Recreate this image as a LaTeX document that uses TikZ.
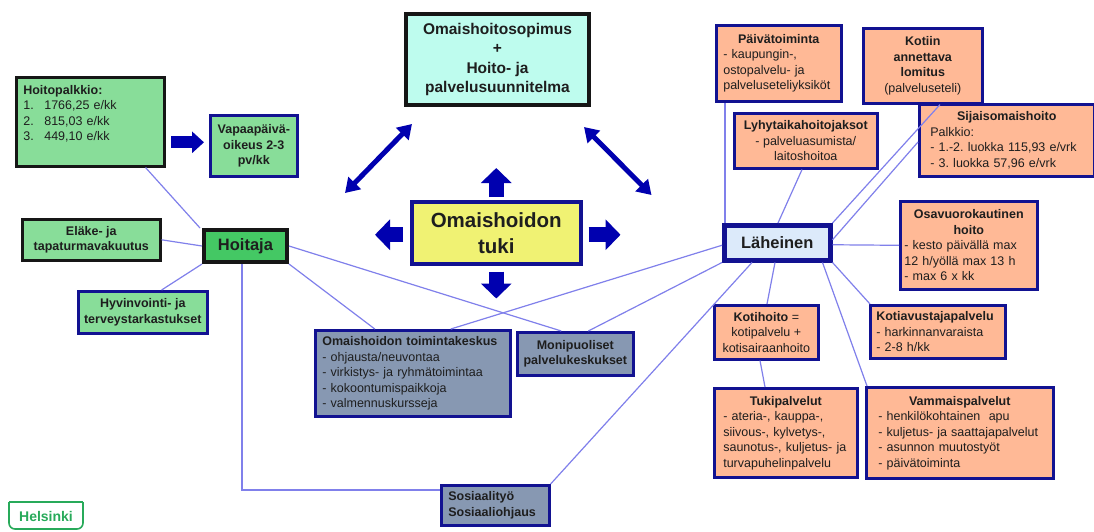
\documentclass[tikz,border=0pt]{standalone}
\usepackage{fontspec}
\setmainfont{Liberation Sans}
\usetikzlibrary{arrows.meta,calc}
\setlength\parindent{0pt}
\frenchspacing
\definecolor{grn}{RGB}{136,221,153}
\definecolor{hgr}{RGB}{68,200,100}
\definecolor{nvy}{RGB}{18,18,145}
\definecolor{blk}{RGB}{22,22,22}
\definecolor{cyn}{RGB}{190,252,238}
\definecolor{ylw}{RGB}{240,242,115}
\definecolor{sal}{RGB}{255,185,150}
\definecolor{sla}{RGB}{135,152,178}
\definecolor{lbl}{RGB}{220,234,250}
\definecolor{lin}{RGB}{128,128,235}
\definecolor{arw}{RGB}{0,0,175}
\definecolor{hgrn}{RGB}{40,170,90}
\definecolor{txt}{RGB}{30,30,30}
\newcommand\fs{\fontsize{12.5}{15.5}\selectfont}
\begin{document}
\begin{tikzpicture}[x=1pt,y=-1pt,
  bx/.style={draw=nvy, line width=2.6pt, inner sep=0pt, anchor=north west, font=\fs, text=txt, align=left},
  green/.style={bx, fill=grn},
  salmon/.style={bx, fill=sal},
  slate/.style={bx, fill=sla},
  sz/.style 2 args={minimum width=#1, minimum height=#2},
  conn/.style={draw=lin, line width=1.2pt},
  barrow/.style={draw=arw, line width=15pt, -{Triangle[length=15pt,width=30pt]}},
  dbl/.style={draw=arw, line width=5pt, {Triangle[length=14pt,width=17pt]}-{Triangle[length=14pt,width=17pt]}}
]
\useasboundingbox (0,0) rectangle (1094,531);
\fill[white] (0,0) rectangle (1094,531);

% left (carer)
\node[green, draw=blk, sz={148pt}{89pt}, text width=134pt] (hp) at (15,76) {\textbf{Hoitopalkkio:}\\ \makebox[21pt][l]{1.}1766,25 e/kk\\ \makebox[21pt][l]{2.}815,03 e/kk\\ \makebox[21pt][l]{3.}449,10 e/kk\par\vspace{16pt}};
\node[green, sz={87pt}{61pt}, align=center, font=\fs\bfseries] (vp) at (209,114) {Vapaapäivä-\\oikeus 2-3\\pv/kk};
\node[green, draw=blk, sz={138pt}{41pt}, align=center, font=\fs\bfseries] (el) at (21,218) {Eläke- ja\\tapaturmavakuutus};
\node[bx, draw=blk, fill=hgr, line width=4pt, sz={83pt}{32pt}, font=\fontsize{16.5}{18}\selectfont\bfseries] (ho) at (202,228) {Hoitaja};
\node[green, sz={129pt}{42pt}, align=center, font=\fs\bfseries] (hy) at (77,290) {Hyvinvointi- ja\\terveystarkastukset};

% centre
\node[bx, draw=blk, fill=cyn, line width=4pt, sz={183pt}{91pt}, align=center, font=\fontsize{15.5}{19.5}\selectfont\bfseries] (os) at (404,12) {Omaishoitosopimus\\+\\Hoito- ja\\palvelusuunnitelma};
\node[bx, fill=ylw, line width=3.5pt, sz={169pt}{62pt}, align=center, font=\fontsize{20.5}{26}\selectfont\bfseries] (ot) at (410,200) {Omaishoidon\\tuki};
\node[slate, sz={195pt}{86pt}, text width=181pt] (tk) at (314,329) {\textbf{Omaishoidon toimintakeskus}\\- ohjausta/neuvontaa\\- virkistys- ja ryhmätoimintaa\\- kokoontumispaikkoja\\- valmennuskursseja};
\node[slate, sz={116pt}{43pt}, align=center, font=\fs\bfseries] (mp) at (516,331) {Monipuoliset\\palvelukeskukset};
\node[slate, sz={108pt}{40pt}, text width=94pt, font=\fs\bfseries] (so) at (440,484) {Sosiaalityö\\Sosiaaliohjaus};

% right (relative)
\node[salmon, sz={125pt}{76pt}, text width=111pt] (pt) at (715,24) {{\centering\textbf{Päivätoiminta}\par}- kaupungin-,\\ostopalvelu- ja\\palveluseteliyksiköt};
\node[salmon, sz={119pt}{75pt}, align=center] (ko) at (862,27) {\textbf{Kotiin}\\\textbf{annettava}\\\textbf{lomitus}\\(palveluseteli)};
\node[salmon, sz={143pt}{55pt}, align=center] (ly) at (733,112) {\textbf{Lyhytaikahoitojaksot}\\- palveluasumista/\\laitoshoitoa};
\node[salmon, sz={175pt}{72pt}, text width=153pt] (si) at (918,103) {{\centering\textbf{Sijaisomaishoito}\par}Palkkio:\\- 1.-2. luokka 115,93 e/vrk\\- 3. luokka 57,96 e/vrk};
\node[bx, fill=lbl, line width=4.5pt, sz={106pt}{35pt}, font=\fontsize{16.5}{18}\selectfont\bfseries] (la) at (722,223) {Läheinen};
\node[salmon, sz={137pt}{88pt}, text width=129pt] (ov) at (899,200) {{\centering\textbf{Osavuorokautinen}\\\textbf{hoito}\par}- kesto päivällä max\\12 h/yöllä max 13 h\\- max 6 x kk};
\node[salmon, sz={104pt}{54pt}, align=center] (kh) at (713,304) {\textbf{Kotihoito} =\\kotipalvelu +\\kotisairaanhoito};
\node[salmon, sz={135pt}{53pt}, text width=123pt] (ka) at (869,304) {\textbf{Kotiavustajapalvelu}\\- harkinnanvaraista\\- 2-8 h/kk};
\node[salmon, sz={143pt}{89pt}, text width=125pt] (tu) at (713,387) {{\centering\textbf{Tukipalvelut}\par}- ateria-, kauppa-,\\siivous-, kylvetys-,\\saunotus-, kuljetus- ja\\turvapuhelinpalvelu};
\node[salmon, sz={187pt}{91pt}, text width=163pt] (va) at (865,386) {{\centering\textbf{Vammaispalvelut}\par}- henkilökohtainen~ apu\\- kuljetus- ja saattajapalvelut\\- asunnon muutostyöt\\- päivätoiminta};

% Helsinki logo
\node[font=\fontsize{14}{14}\selectfont\bfseries, text=hgrn, inner sep=0pt] (hk) at (46,516) {Helsinki};
\draw[hgrn, line width=1.6pt] (9,502) -- (83,502);
\draw[hgrn, line width=1.6pt, rounded corners=6pt] (9,502) -- (9,529) -- (83,529) -- (83,502);

% connectors
\draw[conn] ([xshift=-2pt]ho.north west) -- ([xshift=-20pt]hp.south east);
\draw[conn] (el.east) -- (ho.west);
\draw[conn] (ho.south west) -- ([xshift=-47pt]hy.north east);
\draw[conn] ([xshift=-3.5pt]ho.south) |- ([yshift=-6pt]so.north west);
\draw[conn] (ho.east) -- ([xshift=-14pt]mp.north);
\draw[conn] (ho.south east) -- ([xshift=-38pt]tk.north);
\draw[conn] ([yshift=-2.5pt]la.west) -- ([xshift=38pt]tk.north);
\draw[conn] (la.south west) -- ([xshift=13pt]mp.north);
\draw[conn] ([xshift=30pt]la.south west) -- (so.north east);
\draw[conn] ([xshift=3pt]la.north west) -- ([xshift=10pt]pt.south west);
\draw[conn] ([xshift=56pt]la.north west) -- ([xshift=69pt]ly.south west);
\draw[conn] (la.north east) -- ([xshift=78pt]ko.south west);
\draw[conn] ([yshift=3pt]la.east) -- ([yshift=-39pt]si.north west);
\draw[conn] ([yshift=-2pt]la.east) -- (ov.west);
\draw[conn] (la.south east) -- ([xshift=1pt]ka.north west);
\draw[conn] ([xshift=-10pt]la.south east) -- ([xshift=2pt]va.north west);
\draw[conn] ([xshift=53pt]la.south west) -- ([xshift=54pt]kh.north west);
\draw[conn] ([xshift=47pt]kh.south west) -- ([xshift=52pt]tu.north west);

% block arrows
\draw[barrow, line width=12pt, -{Triangle[length=12pt,width=21pt]}] ([shift={(-38pt,3.5pt)}]vp.west) -- ([shift={(-5pt,3.5pt)}]vp.west);
\draw[barrow] ([yshift=3pt]ot.north) -- ([yshift=32pt]ot.north);
\draw[barrow] ([shift={(-7pt,-2pt)}]ot.west) -- ([shift={(-35pt,-2pt)}]ot.west);
\draw[barrow] ([shift={(6pt,-2pt)}]ot.east) -- ([shift={(38pt,-2pt)}]ot.east);
\draw[barrow] ([yshift=-6pt]ot.south) -- ([yshift=-33pt]ot.south);
\draw[dbl] ([shift={(8pt,-17pt)}]os.south west) -- ([shift={(-65pt,7pt)}]ot.north west);
\draw[dbl] ([shift={(-7pt,-20pt)}]os.south east) -- ([shift={(69pt,5pt)}]ot.north east);
\end{tikzpicture}
\end{document}
